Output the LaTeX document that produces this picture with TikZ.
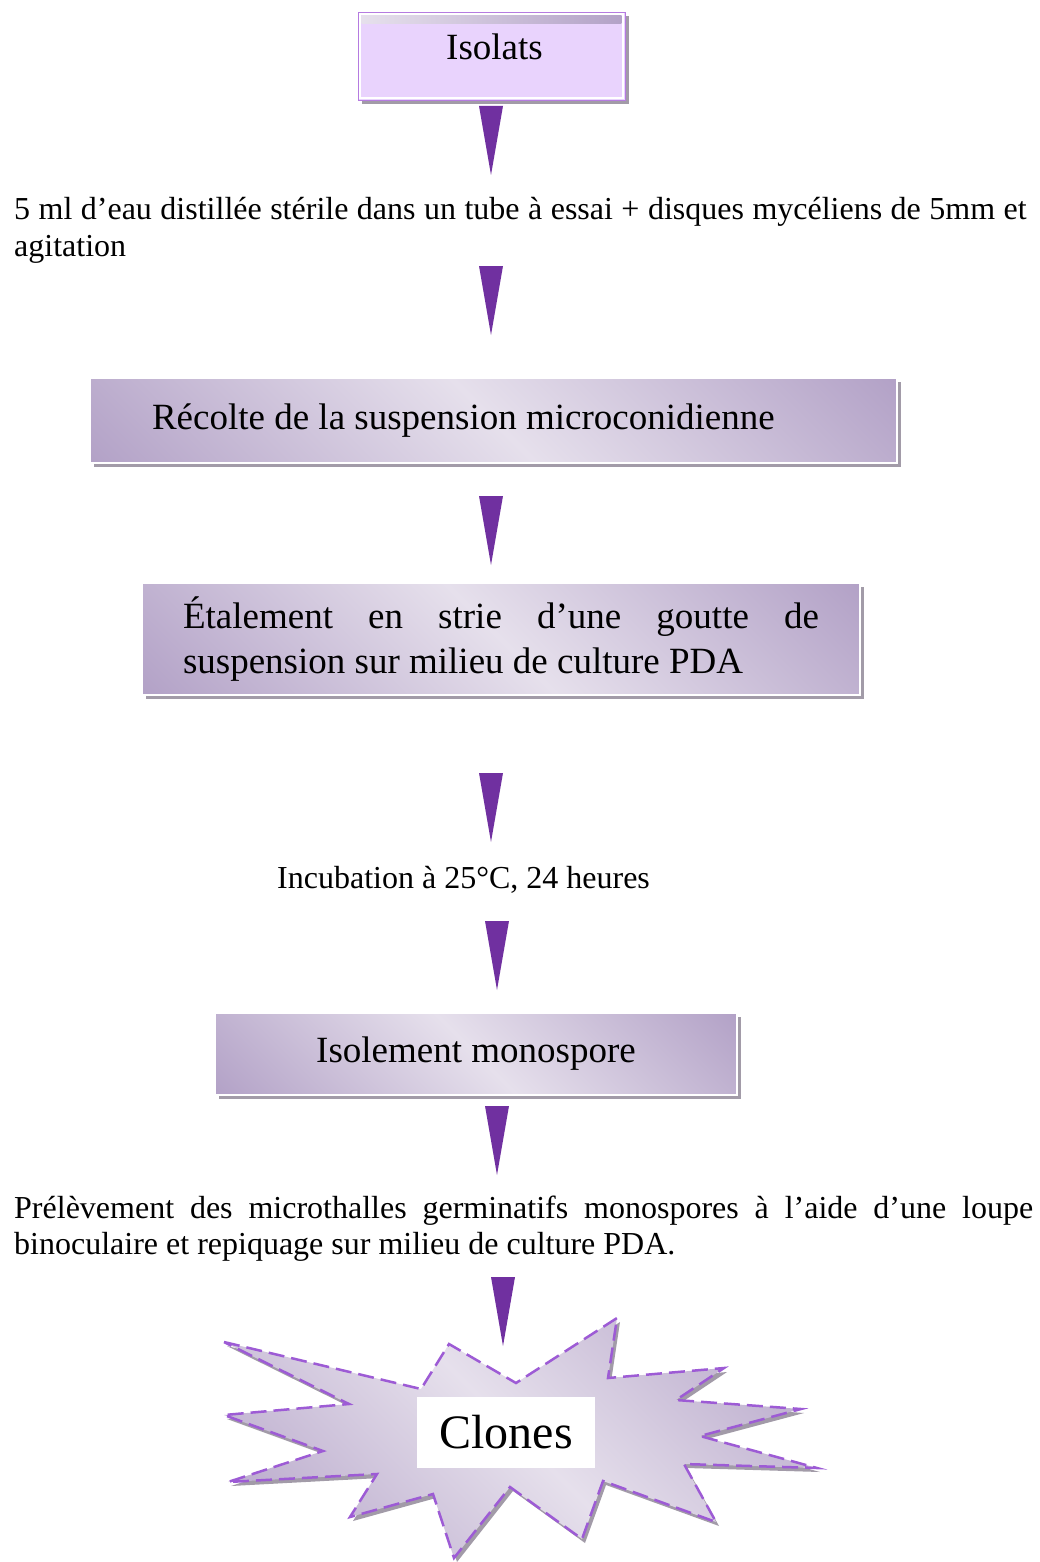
\documentclass[tikz,border=0pt]{standalone}
\usepackage{fontspec}
\setmainfont{Liberation Serif}
\usetikzlibrary{shadows}

% 颜色
\definecolor{jiantouse}{HTML}{7030A0}
\definecolor{zisedark}{HTML}{B3A2C7}
\definecolor{ziselight}{HTML}{E6E0EC}
\definecolor{isolatsdi}{HTML}{E9D3FD}
\definecolor{isolatsbian}{HTML}{B57BE0}
\definecolor{yinying}{HTML}{A29BA8}
\definecolor{xubian}{HTML}{9D5BD5}

% 斜着的渐变
\pgfdeclarehorizontalshading{zisejianbian}{100bp}{color(0bp)=(zisedark); color(15bp)=(zisedark); color(50bp)=(ziselight); color(85bp)=(zisedark); color(100bp)=(zisedark)}

\hyphenpenalty=10000
\tolerance=9999

% 左对齐时用字体本身的空格
\newcommand{\ziran}{\spaceskip=0pt\xspaceskip=0pt\relax}

\tikzset{
  % 方框的style
  hezi/.style={draw=white, line width=1.5pt, shade, shading=zisejianbian, shading angle=45,
    drop shadow={shadow xshift=3.5pt, shadow yshift=-3.5pt, fill=yinying, opacity=1},
    font=\fontsize{37}{45}\selectfont, inner ysep=0pt},
  isolats/.style={draw=isolatsbian, line width=0.8pt, fill=isolatsdi,
    drop shadow={shadow xshift=4pt, shadow yshift=-4pt, fill=yinying, opacity=1},
    minimum width=267pt, minimum height=88pt, text height=30pt, text depth=22pt,
    font=\fontsize{37}{45}\selectfont},
  wenzi/.style={inner sep=0pt, anchor=base west, font=\fontsize{32}{36.5}\selectfont},
  xingxing/.style={draw=xubian, line width=2.5pt, dash pattern=on 16pt off 7pt,
    shade, shading=zisejianbian, shading angle=45,
    drop shadow={shadow xshift=3pt, shadow yshift=-4pt, fill=yinying, opacity=1}},
  clones/.style={fill=white, minimum width=178pt, minimum height=71pt,
    font=\fontsize{48}{54}\selectfont},
  jiantou/.pic={\fill[jiantouse] (-12,0) -- (12,0) -- (0,69) -- cycle;}
}

\begin{document}
\begin{tikzpicture}[x=1pt,y=-1pt]

  \useasboundingbox (0,0) rectangle (1040,1562);

  % Isolats 方框
  \node[isolats] (isolats) at (491.5,56) {\hspace*{6pt}Isolats};
  \draw[white, line width=2pt] ([shift={(2.5pt,-2.5pt)}]isolats.north west) rectangle ([shift={(-2.5pt,2.5pt)}]isolats.south east);
  \shade[left color=ziselight, right color=zisedark] ([shift={(4pt,-3.5pt)}]isolats.north west) rectangle ([shift={(-4pt,-12pt)}]isolats.north east);

  \pic (j1) at (491,106) {jiantou};

  % 文字
  \node[wenzi, text width=1020pt, align=left] (eau) at (14,220)
    {\ziran 5 ml d’eau distillée stérile dans un tube à essai + disques mycéliens de 5mm et agitation};

  \pic (j2) at (491,266) {jiantou};

  % 方框
  \node[hezi, minimum width=807pt, minimum height=85pt, text width=683pt, inner xsep=62pt, align=left]
    (recolte) at (493.5,420.5) {\ziran Récolte de la suspension microconidienne};

  \pic (j3) at (491,496) {jiantou};

  \node[hezi, minimum width=718pt, minimum height=112pt, text width=636pt, inner xsep=41pt, align=justify]
    (etalement) at (501,639) {Étalement en strie d’une goutte de\linebreak suspension sur milieu de culture PDA};

  \pic (j4) at (491,773) {jiantou};

  \node[wenzi] (incubation) at (277,888) {Incubation à 25°C, 24 heures};

  \pic (j5) at (497,921) {jiantou};

  \node[hezi, minimum width=522pt, minimum height=82pt] (isolement) at (476,1054) {Isolement monospore};

  \pic (j6) at (497,1106) {jiantou};

  \node[wenzi, text width=1019pt, align=justify] (prelevement) at (14,1218)
    {Prélèvement des microthalles germinatifs monospores à l’aide d’une loupe binoculaire et repiquage sur milieu de culture PDA.};

  \pic (j7) at (503,1277) {jiantou};

  % 星星
  \path[xingxing] (224,1342) -- (421,1389) -- (449,1344) -- (516,1383) -- (617,1318)
    -- (608,1378) -- (724,1368) -- (676,1400) -- (801,1409) -- (700,1436)
    -- (817,1468) -- (684,1464) -- (716,1522) -- (603,1481) -- (582,1539)
    -- (510,1487) -- (454,1558) -- (433,1494) -- (350,1517) -- (377,1474)
    -- (228,1482) -- (323,1451) -- (224,1415) -- (349,1404) -- cycle;

  \node[clones] (clones) at (506,1432.5) {Clones};

\end{tikzpicture}
\end{document}
